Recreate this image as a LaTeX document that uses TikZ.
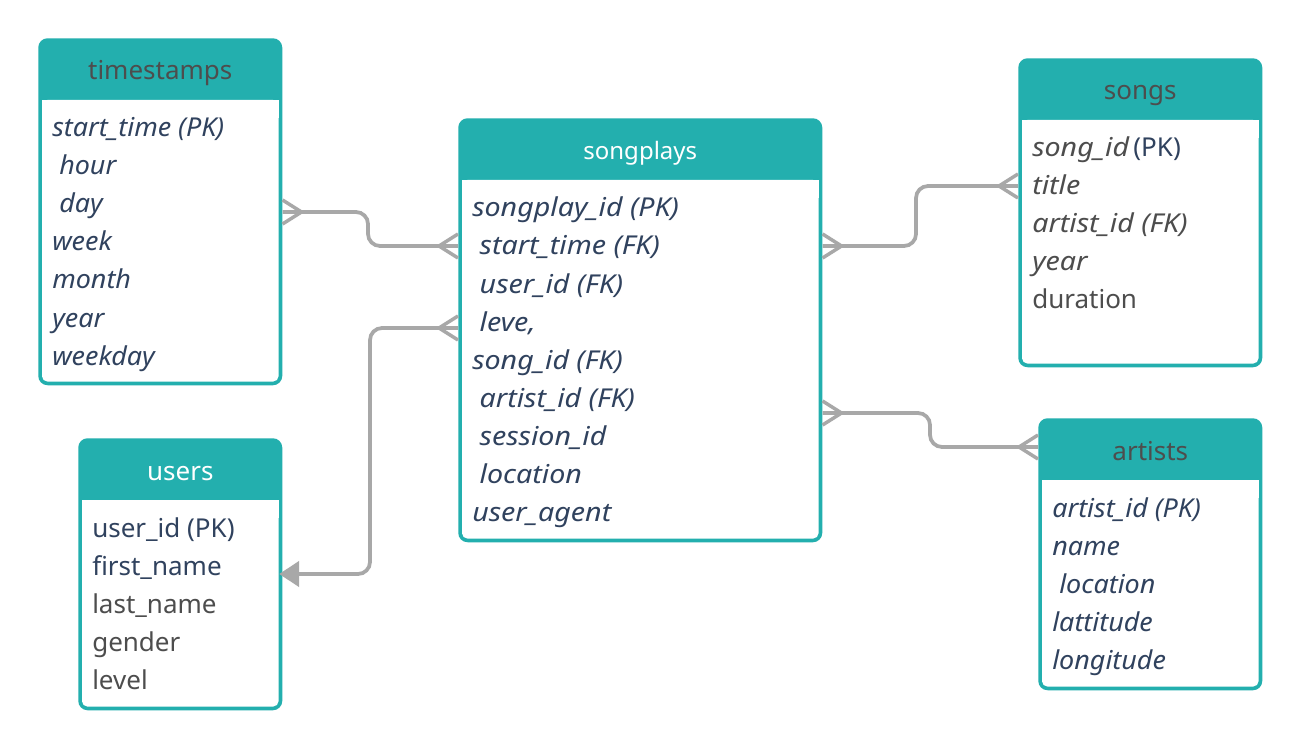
\documentclass[tikz,border=0pt]{standalone}
\usepackage{fontspec}
\setmainfont{Noto Sans}[ItalicFeatures={FakeStretch=1.035}]
\newfontfamily\widefam{Noto Sans}[ItalicFeatures={FakeStretch=1.10}]
\usetikzlibrary{arrows.meta,calc}
\definecolor{tealhd}{RGB}{35,175,174}
\definecolor{txtblue}{RGB}{48,66,94}
\definecolor{txtgray}{RGB}{77,77,77}
\definecolor{conngray}{RGB}{168,168,168}
\newcommand\BI[1]{\textcolor{txtblue}{\itshape #1}}
\newcommand\GI[1]{\textcolor{txtgray}{\itshape #1}}
\newcommand\BU[1]{\textcolor{txtblue}{#1}}
\newcommand\GU[1]{\textcolor{txtgray}{#1}}
\tikzset{
  tblbox/.style={fill=tealhd, rounded corners=7pt, inner sep=0pt, anchor=north west},
  hdr/.style={anchor=base, inner sep=0pt, font=\fontsize{19.5pt}{23pt}\selectfont},
  rowtxt/.style={anchor=base west, inner sep=0pt, font=\fontsize{19.5pt}{23pt}\selectfont},
  widerow/.style={font=\widefam\fontsize{19.5pt}{23pt}\selectfont},
  conn/.style={draw=conngray, line width=2.8pt, rounded corners=9pt},
  crowft/.style={draw=conngray, line width=2.6pt, line join=round},
}
% #1 name, #2 x1, #3 y1, #4 x2, #5 y2, #6 title, #7 title style, #8 rows, #9 row style
\newcommand\ertable[9]{%
  \node[tblbox, minimum width={(#4-#2)*0.75pt}, minimum height={(#5-#3)*0.75pt}] (#1) at (#2,#3) {};
  \fill[white, rounded corners=4pt] ($(#1.south west)+(4,-4)$) rectangle ($(#1.north east)+(-4,62)$);
  \fill[white] ($(#1.north west)+(4,62)$) rectangle ($(#1.north east)+(-4,80)$);
  \node[hdr, #7] (#1-hd) at ($(#1.north)+(0,42)$) {#6};
  \foreach \rowtext [count=\i from 0] in {#8}
    \node[rowtxt, #9] (#1-r\i) at ($(#1.north west)+(14,99+38*\i)$) {\rowtext};
}
\newcommand\crow[2]{\draw[crowft] ($(#1)+(0,-12)$) -- ($(#1)+(#2,0)$) -- ($(#1)+(0,12)$);}
\begin{document}
\begin{tikzpicture}[x=0.75pt,y=-0.75pt]
\fill[white] (0,0) rectangle (1301,748);
\useasboundingbox (0,0) rectangle (1301,748);

\ertable{ts}{38}{38}{282}{385}{timestamps}{text=txtgray}{%
  {\BI{start\_time (PK)}},{\BI{\ hour}},{\BI{\ day}},{\BI{week}},{\BI{month}},{\BI{year}},{\BI{weekday}}}{}
\ertable{sp}{458}{118}{822}{542}{songplays}{text=white, font=\fontsize{18pt}{22pt}\selectfont}{%
  {\BI{songplay\_id (PK)}},{\BI{\ start\_time (FK)}},{\BI{\ user\_id (FK)}},{\BI{\ leve,}},{\BI{song\_id (FK)}},{\BI{\ artist\_id (FK)}},{\BI{\ session\_id}},{\BI{\ location}},{\BI{user\_agent}}}{widerow}
\ertable{so}{1018}{58}{1262}{367}{songs}{text=txtgray}{%
  {\GI{song\_id}\,\BU{(PK)}},{\GI{title}},{\GI{artist\_id (FK)}},{\GI{year}},{\GU{duration}}}{widerow}
\ertable{us}{78}{438}{282}{710}{users}{text=white}{%
  {\BU{user\_id (PK)}},{\BU{first\_name}},{\GU{last\_name}},{\GU{gender}},{\GU{level}}}{}
\ertable{ar}{1038}{418}{1262}{690}{artists}{text=txtgray}{%
  {\BI{artist\_id (PK)}},{\BI{name}},{\BI{\ location}},{\BI{lattitude}},{\BI{longitude}}}{}

\coordinate (tsE) at ($(ts.north east)+(0,174)$);
\coordinate (spW1) at ($(sp.north west)+(0,128)$);
\coordinate (spW2) at ($(sp.north west)+(0,210)$);
\coordinate (usE) at ($(us.north east)+(0,136)$);
\coordinate (spE1) at ($(sp.north east)+(0,128)$);
\coordinate (soW) at ($(so.north west)+(0,128)$);
\coordinate (spE2) at ($(sp.north east)+(0,295)$);
\coordinate (arW) at ($(ar.north west)+(0,29)$);

\draw[conn] (tsE) -- (368,212) -- (368,246) -- (spW1);
\draw[conn, shorten >=-2.5pt, -{Triangle[length=15pt,width=19pt]}] (spW2) -- (370,328) -- (370,574) -- (usE);
\draw[conn] (spE1) -- (916,246) -- (916,186) -- (soW);
\draw[conn] (spE2) -- (930,413) -- (930,447) -- (arW);

\crow{tsE}{19}
\crow{spW1}{-19}
\crow{spW2}{-19}
\crow{spE1}{19}
\crow{soW}{-19}
\crow{spE2}{19}
\crow{arW}{-19}
\end{tikzpicture}
\end{document}
